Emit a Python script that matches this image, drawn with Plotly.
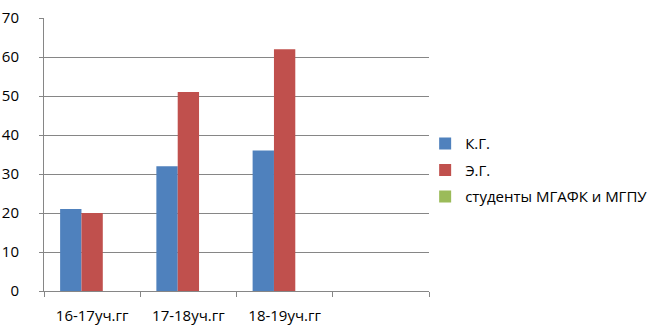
import plotly.graph_objects as go

# Academic years (the trailing blank slot keeps the empty fourth column)
categories = ["16-17уч.гг", "17-18уч.гг", "18-19уч.гг", " "]
years = ["16-17уч.гг", "17-18уч.гг", "18-19уч.гг"]

series_names = ["К.Г.", "Э.Г.", "студенты МГАФК и МГПУ"]
kg_values = [21, 32, 36]
eg_values = [20, 51, 62]
students_values = [0, 0, 0]
y_ticks = [0, 10, 20, 30, 40, 50, 60, 70]

colors = ["#4F81BD", "#C0504D", "#9BBB59"]
font_family = "Open Sans, Noto Sans, DejaVu Sans, sans-serif"
axis_gray = "#868686"
font_size = 15

fig = go.Figure()
for i, (name, vals) in enumerate(zip(series_names, [kg_values, eg_values, students_values])):
    fig.add_trace(go.Bar(
        x=years, y=vals, name=name,
        marker=dict(color=colors[i], line=dict(width=0)),
        legendgroup=f"g{i}",
    ))

fig.update_layout(
    width=660, height=325,
    margin=dict(l=43.5, r=231, t=18, b=34, autoexpand=False),
    paper_bgcolor="white", plot_bgcolor="white",
    barmode="group", bargap=0.335, bargroupgap=0,
    font=dict(family=font_family, size=font_size, color="black"),
    showlegend=True,
    legend=dict(
        x=0.99, xanchor="left", y=0.6, yanchor="top",
        font=dict(family=font_family, size=font_size, color="black"),
        traceorder="grouped", tracegroupgap=4,
        bgcolor="rgba(0,0,0,0)",
        itemwidth=30,
    ),
)
fig.update_xaxes(
    type="category", categoryorder="array", categoryarray=categories,
    range=[-0.5, 3.5], automargin=False,
    tickson="boundaries", ticks="outside", ticklen=5, tickcolor=axis_gray,
    showline=True, linecolor=axis_gray, linewidth=1,
    showgrid=False, zeroline=False,
    tickfont=dict(size=font_size), ticklabelstandoff=11,
)
fig.update_yaxes(
    range=[0, 70], tickvals=y_ticks, automargin=False,
    ticks="outside", ticklen=4, tickcolor=axis_gray,
    showline=True, linecolor=axis_gray, linewidth=1,
    showgrid=True, gridcolor=axis_gray, gridwidth=1,
    zeroline=False, tickfont=dict(size=font_size), ticklabelstandoff=17,
)

fig.write_html("out.html")
